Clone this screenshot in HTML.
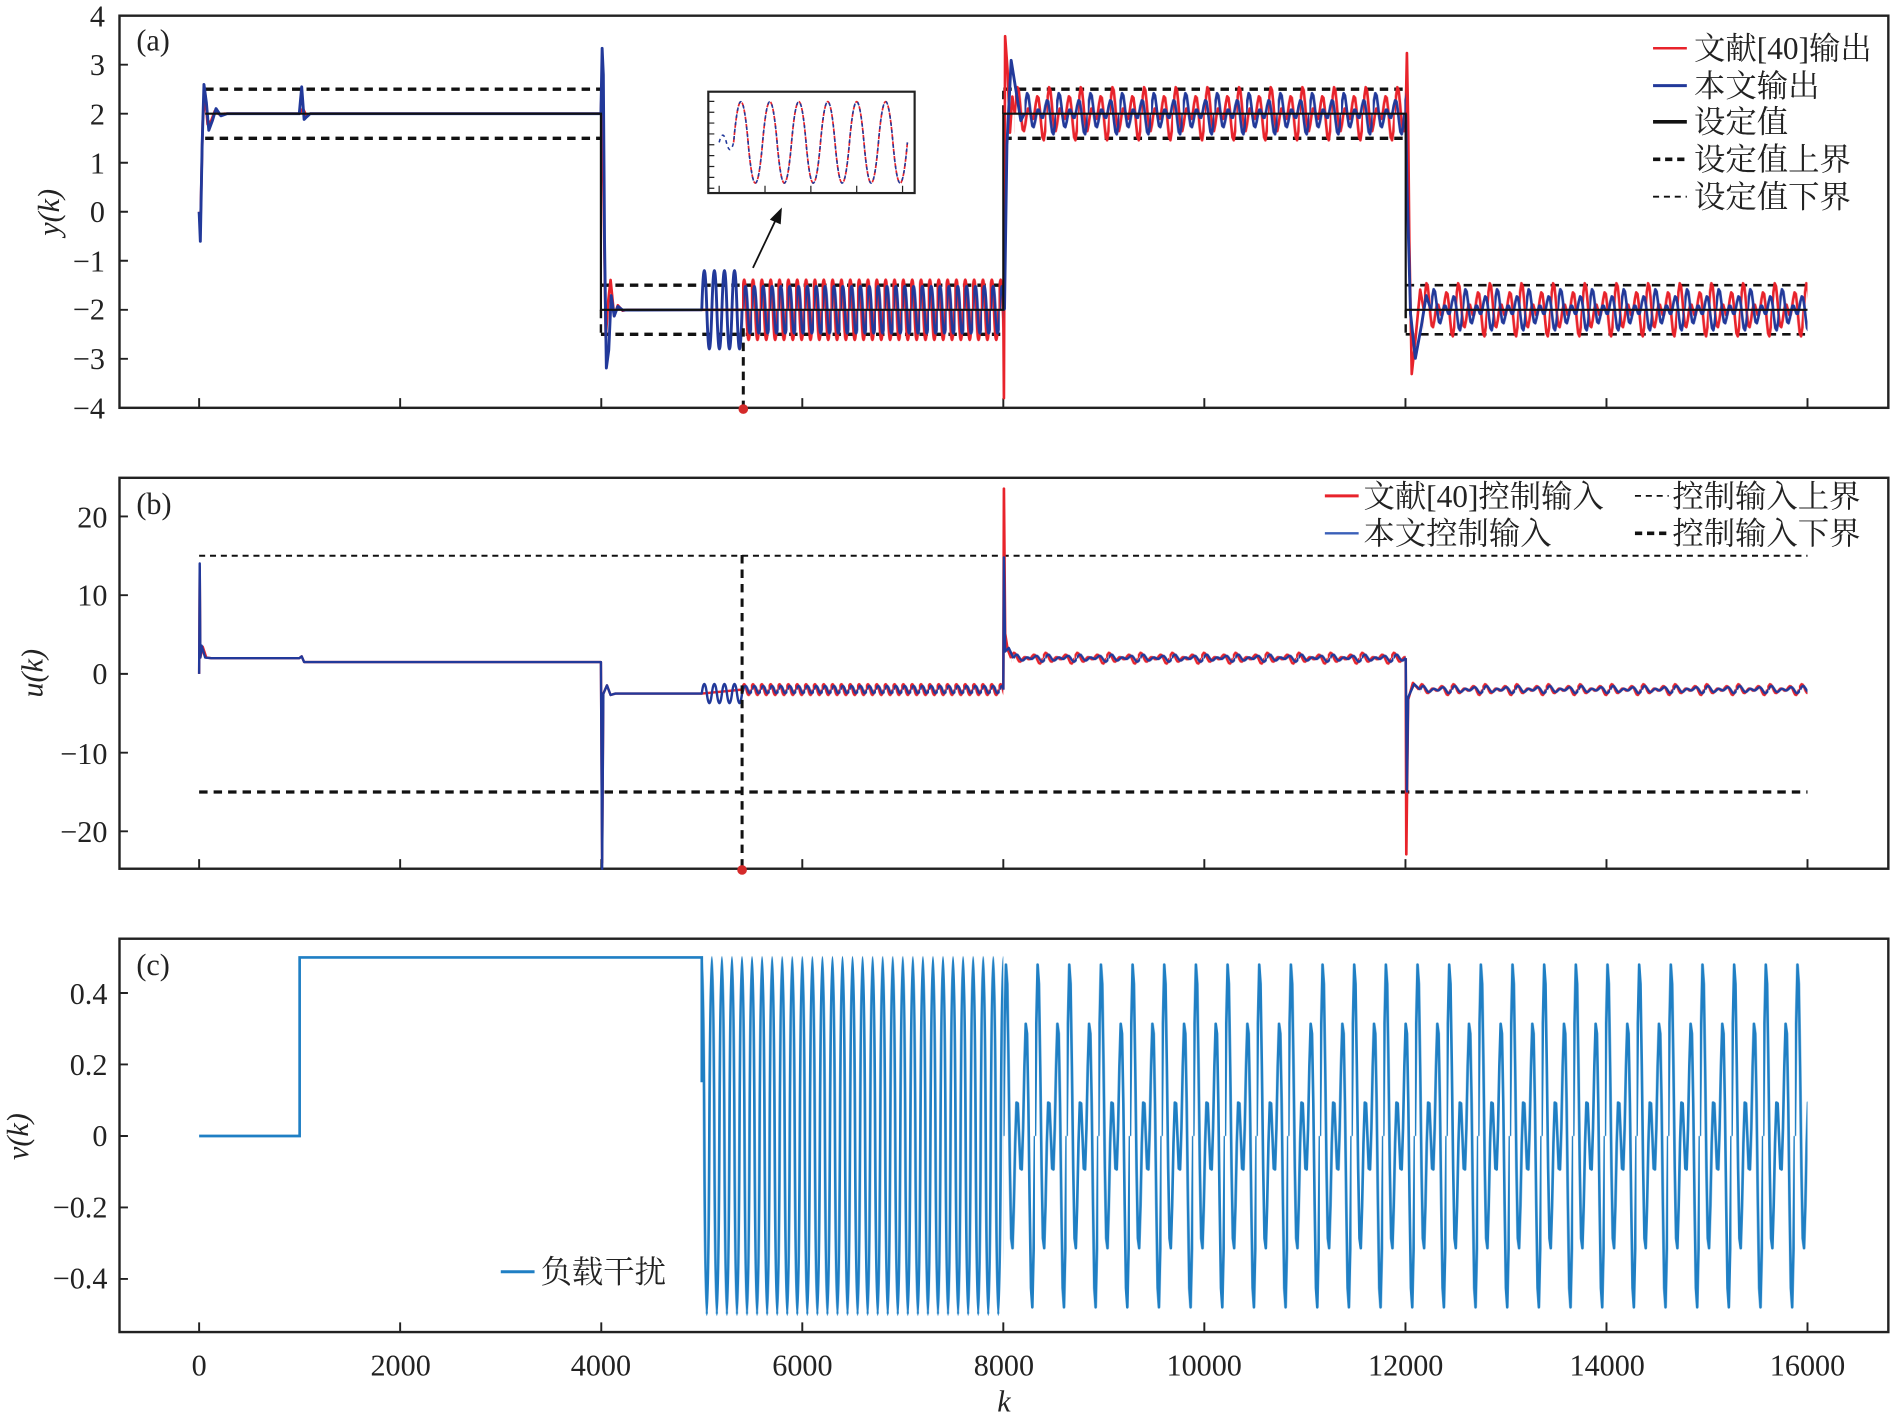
<!DOCTYPE html>
<html><head><meta charset="utf-8"><style>
html,body{margin:0;padding:0;background:#fff;}
svg{display:block;}
text{font-family:"Liberation Serif","Noto Serif CJK SC","Noto Sans CJK SC",serif;fill:#222;}
</style></head><body>
<svg width="1892" height="1417" viewBox="0 0 1568 1174.4" xmlns="http://www.w3.org/2000/svg">
<defs>
<pattern id="sA" patternUnits="userSpaceOnUse" x="0" y="0" width="7.33" height="60"><path d="M0,30 C1.15,-3.3 2.52,-3.3 3.665,30 C4.81,63.3 6.18,63.3 7.33,30" fill="none" stroke="#e8232b" stroke-width="2.2"/></pattern>
<pattern id="sAb" patternUnits="userSpaceOnUse" x="0" y="0" width="7.33" height="60"><path d="M0,30 C1.15,4 2.52,4 3.665,30 C4.81,56 6.18,56 7.33,30" fill="none" stroke="#22399a" stroke-width="2.2"/></pattern>
<pattern id="sB" patternUnits="userSpaceOnUse" x="0" y="0" width="7.33" height="16"><path d="M0,8 C1.15,2 2.52,2 3.665,8 C4.81,14 6.18,14 7.33,8" fill="none" stroke="#e8232b" stroke-width="2"/></pattern>
<pattern id="sBb" patternUnits="userSpaceOnUse" x="0" y="0" width="7.33" height="16"><path d="M0,8 C1.15,4 2.52,4 3.665,8 C4.81,12 6.18,12 7.33,8" fill="none" stroke="#22399a" stroke-width="2"/></pattern>
<pattern id="c22" patternUnits="userSpaceOnUse" x="0" y="0" width="26.24" height="50"><path d="M0,25 L1.09,10.6 L2.19,3 L3.28,5.5 L4.37,16.1 L5.47,29.2 L6.56,38.1 L7.65,39.4 L8.75,33.9 L9.84,25.9 L10.93,20.7 L12.03,20.8 L13.12,25 L14.21,29.2 L15.31,29.3 L16.4,24.1 L17.49,16.1 L18.59,10.6 L19.68,11.9 L20.77,20.8 L21.87,33.9 L22.96,44.5 L24.05,47 L25.15,39.4 L26.24,25" fill="none" stroke="#e8232b" stroke-width="2.2" stroke-linejoin="round"/></pattern>
<pattern id="c17" patternUnits="userSpaceOnUse" x="0" y="0" width="26.24" height="50"><path d="M0,25 L1.09,13.9 L2.19,8 L3.28,9.9 L4.37,18.1 L5.47,28.2 L6.56,35.1 L7.65,36.1 L8.75,31.9 L9.84,25.7 L10.93,21.7 L12.03,21.8 L13.12,25 L14.21,28.2 L15.31,28.3 L16.4,24.3 L17.49,18.1 L18.59,13.9 L19.68,14.9 L20.77,21.8 L21.87,31.9 L22.96,40.1 L24.05,42 L25.15,36.1 L26.24,25" fill="none" stroke="#22399a" stroke-width="2.2" stroke-linejoin="round"/></pattern>
<pattern id="cS" patternUnits="userSpaceOnUse" x="0" y="0" width="26.24" height="14"><path d="M0,7 L1.09,4.05 L2.19,2.5 L3.28,3 L4.37,5.2 L5.47,7.9 L6.56,9.7 L7.65,9.9 L8.75,8.8 L9.84,7.2 L10.93,6.1 L12.03,6.1 L13.12,7 L14.21,7.9 L15.31,7.9 L16.4,6.8 L17.49,5.2 L18.59,4.05 L19.68,4.3 L20.77,6.1 L21.87,8.8 L22.96,11 L24.05,11.5 L25.15,9.9 L26.24,7" fill="none" stroke="#e8232b" stroke-width="2" stroke-linejoin="round"/></pattern>
<pattern id="cSb" patternUnits="userSpaceOnUse" x="0" y="0" width="26.24" height="14"><path d="M0,7 L1.09,5 L2.19,4 L3.28,4.3 L4.37,5.8 L5.47,7.6 L6.56,8.8 L7.65,9 L8.75,8.2 L9.84,7.1 L10.93,6.4 L12.03,6.4 L13.12,7 L14.21,7.6 L15.31,7.6 L16.4,6.8 L17.49,5.8 L18.59,5 L19.68,5.2 L20.77,6.4 L21.87,8.2 L22.96,9.7 L24.05,10 L25.15,9 L26.24,7" fill="none" stroke="#22399a" stroke-width="2" stroke-linejoin="round"/></pattern>
<pattern id="cV" patternUnits="userSpaceOnUse" x="0" y="0" width="26.24" height="296"><path d="M0,148 L1.09,55 L2.19,6 L3.28,22 L4.37,90.8 L5.47,175 L6.56,232.8 L7.65,241 L8.75,205.2 L9.84,154 L10.93,120.3 L12.03,121 L13.12,148 L14.21,175 L15.31,175.7 L16.4,142 L17.49,90.8 L18.59,55 L19.68,63.2 L20.77,121 L21.87,205.2 L22.96,274 L24.05,290 L25.15,241 L26.24,148" fill="none" stroke="#1f7fc4" stroke-width="2.2" stroke-linejoin="round"/></pattern>
<pattern id="sV" patternUnits="userSpaceOnUse" x="0" y="0" width="8.33" height="302"><path d="M0,3 C1.39,3 2.08,151 2.08,151 S2.78,299 4.165,299 S6.25,151 6.25,151 S6.94,3 8.33,3" fill="none" stroke="#1f7fc4" stroke-width="2.2"/></pattern>
</defs>

<!-- frames -->
<g fill="none" stroke="#222" stroke-width="2">
<rect x="99" y="13" width="1466" height="325"/>
<rect x="99" y="396" width="1466" height="324"/>
<rect x="99" y="778" width="1466" height="326"/>
</g>
<!-- ticks -->
<g stroke="#222" stroke-width="1.6">
<path d="M165,338v-8M331.6,338v-8M498.3,338v-8M664.9,338v-8M831.5,338v-8M998.1,338v-8M1164.8,338v-8M1331.4,338v-8M1498,338v-8"/>
<path d="M165,720v-8M331.6,720v-8M498.3,720v-8M664.9,720v-8M831.5,720v-8M998.1,720v-8M1164.8,720v-8M1331.4,720v-8M1498,720v-8"/>
<path d="M165,1104v-8M331.6,1104v-8M498.3,1104v-8M664.9,1104v-8M831.5,1104v-8M998.1,1104v-8M1164.8,1104v-8M1331.4,1104v-8M1498,1104v-8"/>
<path d="M99,53.6h7M99,94.25h7M99,134.9h7M99,175.5h7M99,216.1h7M99,256.75h7M99,297.4h7"/>
<path d="M99,428h7M99,493.3h7M99,558.5h7M99,623.8h7M99,689h7"/>
<path d="M99,823h7M99,882.2h7M99,941.5h7M99,1000.7h7M99,1060h7"/>
</g>

<!-- ===== panel a ===== -->
<g stroke="#111" stroke-width="2.8" stroke-dasharray="7,5" fill="none">
<path d="M170,73.9H498M170,114.6H498M498,236.4H831.5M498,277.1H831.5M831.5,73.9H1165M831.5,114.6H1165"/>
<path d="M1165,236.4H1498M1165,277.1H1498" stroke-width="2.2"/>
<path d="M498,256.75V277.1M831.5,94.25V73.9M1165,256.75V277.1" stroke-width="2"/>
</g>
<!-- red a -->
<path d="M165,175.5 L166,190 L168,100 L170,78 L172,103 L175,100 L178,92 L182,95 L186,94.25 L248,94.25 L251,90 L254,96 L257,94.25 L498,94.25 L499,60 L500,150 L502,280 L504,250 L506,232 L509,262 L512,253 L516,257.5 L520,256.75 L614.9,256.75" fill="none" stroke="#e8232b" stroke-width="2.2" stroke-linejoin="round"/>
<g transform="translate(614.9,226.75)"><rect x="0" y="0" width="216.6" height="60" fill="url(#sA)"/></g>
<path d="M831.5,256.75 L832,330 L833,30 L835,58 L837,110 L839,80 L841,94.25" fill="none" stroke="#e8232b" stroke-width="2.2" stroke-linejoin="round"/>
<g transform="translate(841,69.25)"><rect x="0" y="0" width="324" height="50" fill="url(#c22)"/></g>
<path d="M1165,94.25 L1166,44 L1167,100 L1168,200 L1170,310 L1173,282 L1177,240 L1180,256.75" fill="none" stroke="#e8232b" stroke-width="2.2" stroke-linejoin="round"/>
<g transform="translate(1180,231.75)"><rect x="0" y="0" width="318" height="50" fill="url(#c22)"/></g>
<!-- blue a -->
<path d="M165,175.5 L166,200 L167.5,120 L169,70 L171,85 L173,108 L176,100 L179,90 L183,96 L188,94.25 L248,94.25 L250,72 L252,99 L254,97 L257,94.25 L498,94.25 L499,40 L500,62 L501,200 L502.5,305 L504.5,290 L506.5,245 L509,262 L512,254 L516,257 L581.6,256.75 c1.4,-43.3 2.8,-43.3 4.17,0 c1.4,43.3 2.8,43.3 4.17,0 c1.4,-43.3 2.8,-43.3 4.17,0 c1.4,43.3 2.8,43.3 4.17,0 c1.4,-43.3 2.8,-43.3 4.17,0 c1.4,43.3 2.8,43.3 4.17,0 c1.4,-43.3 2.8,-43.3 4.17,0 c1.4,43.3 2.8,43.3 4.17,0" fill="none" stroke="#22399a" stroke-width="2.4" stroke-linejoin="round"/>
<g transform="translate(616,226.75)"><rect x="0" y="0" width="215.5" height="60" fill="url(#sAb)"/></g>
<path d="M831.5,256.75 L832.5,256 L834.5,120 L838,50 L842,75 L846,100 L849,94.25" fill="none" stroke="#22399a" stroke-width="2.4" stroke-linejoin="round"/>
<g transform="translate(849,69.25)"><rect x="0" y="0" width="316" height="50" fill="url(#c17)"/></g>
<path d="M1165,94.25 L1166,150 L1169,260 L1173,297 L1178,270 L1182,245 L1186,256.75" fill="none" stroke="#22399a" stroke-width="2.4" stroke-linejoin="round"/>
<g transform="translate(1186,231.75)"><rect x="0" y="0" width="312" height="50" fill="url(#c17)"/></g>
<!-- setpoint -->
<path d="M170,94.25H498V256.75H831.5V94.25H1165V256.75H1498" fill="none" stroke="#111" stroke-width="1.8"/>

<!-- inset -->
<rect x="587" y="76" width="171" height="84" fill="#fff" stroke="#222" stroke-width="1.8"/>
<path d="M587,84h5M587,93h5M587,102h5M587,111h5M587,120h5M587,129h5M587,138h5M587,147h5M587,156h5M596,160v-6M634,160v-6M672,160v-6M710,160v-6M748,160v-6" stroke="#222" stroke-width="1"/>
<path d="M608,118 c4,-45 8,-45 12,0 c4,45 8,45 12,0 c4,-45 8,-45 12,0 c4,45 8,45 12,0 c4,-45 8,-45 12,0 c4,45 8,45 12,0 c4,-45 8,-45 12,0 c4,45 8,45 12,0 c4,-45 8,-45 12,0 c4,45 8,45 12,0 c4,-45 8,-45 12,0 c4,45 8,45 12,0" fill="none" stroke="#e8232b" stroke-width="1.4" stroke-dasharray="4,2"/>
<path d="M596,118 c2,-8 4,-8 6,0 c2,8 4,8 6,0 c4,-45 8,-45 12,0 c4,45 8,45 12,0 c4,-45 8,-45 12,0 c4,45 8,45 12,0 c4,-45 8,-45 12,0 c4,45 8,45 12,0 c4,-45 8,-45 12,0 c4,45 8,45 12,0 c4,-45 8,-45 12,0 c4,45 8,45 12,0 c4,-45 8,-45 12,0 c4,45 8,45 12,0" fill="none" stroke="#22399a" stroke-width="1.3" stroke-dasharray="3,3"/>

<!-- ===== panel b ===== -->
<path d="M165,460.6H1498" stroke="#111" stroke-width="1.6" stroke-dasharray="5,4"/>
<path d="M165,656.4H1498" stroke="#111" stroke-width="2.6" stroke-dasharray="7,5"/>
<!-- red b -->
<path d="M165,558.5 L165.5,470 L166,545 L168,536 L171,545 L175,545.5 L248,545.5 L250,544 L252,548.7 L498,548.7 L499,715 L500,575 L503,568 L506,576 L510,574.8 L581.6,574.8 L614.9,571.55" fill="none" stroke="#e8232b" stroke-width="2" stroke-linejoin="round"/>
<g transform="translate(614.9,563.55)"><rect x="0" y="0" width="216.6" height="16" fill="url(#sB)"/></g>
<path d="M831.5,571.55 L832,405 L833,525 L835,538 L838,545.5" fill="none" stroke="#e8232b" stroke-width="2.2" stroke-linejoin="round"/>
<g transform="translate(838,538.5)"><rect x="0" y="0" width="327" height="14" fill="url(#cS)"/></g>
<path d="M1165,545.5 L1165.5,708 L1167,580 L1171,566 L1176,571.55" fill="none" stroke="#e8232b" stroke-width="2.2" stroke-linejoin="round"/>
<g transform="translate(1176,564.55)"><rect x="0" y="0" width="322" height="14" fill="url(#cS)"/></g>
<!-- blue b -->
<path d="M165,558.5 L165.5,467 L166,545 L167,535 L170,545 L175,545.5 L248,545.5 L250,544 L252,548.7 L498,548.7 L499,720 L500,575 L503,568 L506,576 L510,574.8 L581.6,574.8 c1.4,-10.6 2.8,-10.6 4.17,0 c1.4,10.6 2.8,10.6 4.17,0 c1.4,-10.6 2.8,-10.6 4.17,0 c1.4,10.6 2.8,10.6 4.17,0 c1.4,-10.6 2.8,-10.6 4.17,0 c1.4,10.6 2.8,10.6 4.17,0 c1.4,-10.6 2.8,-10.6 4.17,0 c1.4,10.6 2.8,10.6 4.17,0 L616,571.55" fill="none" stroke="#22399a" stroke-width="2" stroke-linejoin="round"/>
<g transform="translate(616,563.55)"><rect x="0" y="0" width="215.5" height="16" fill="url(#sBb)"/></g>
<path d="M831.5,571.55 L832,462 L833,540 L836,537 L840,545.5" fill="none" stroke="#22399a" stroke-width="2" stroke-linejoin="round"/>
<g transform="translate(840,538.5)"><rect x="0" y="0" width="325" height="14" fill="url(#cSb)"/></g>
<path d="M1165,545.5 L1166,656 L1167,578 L1172,567 L1177,571.55" fill="none" stroke="#22399a" stroke-width="2" stroke-linejoin="round"/>
<g transform="translate(1177,564.55)"><rect x="0" y="0" width="321" height="14" fill="url(#cSb)"/></g>

<!-- ===== panel c ===== -->
<path d="M165,941.5H248.3V793.5H581.6V897" fill="none" stroke="#1f7fc4" stroke-width="2.2"/>
<g transform="translate(581.6,790.5)"><rect x="0" y="0" width="249.9" height="302" fill="url(#sV)"/></g>
<g transform="translate(831.5,793.5)"><rect x="0" y="0" width="666.5" height="296" fill="url(#cV)"/></g>

<!-- markers -->
<g stroke="#111" stroke-width="2.5" stroke-dasharray="7,5" fill="none">
<line x1="616" y1="272" x2="616" y2="338"/>
<line x1="615" y1="460" x2="615" y2="720"/>
</g>
<circle cx="616" cy="339" r="4" fill="#d42a2a"/>
<circle cx="615" cy="721" r="4" fill="#d42a2a"/>
<line x1="624" y1="222" x2="643" y2="182" stroke="#111" stroke-width="1.5"/>
<polygon points="648,172 638,182 647,186" fill="#111"/>

<!-- labels -->
<g font-size="25">
<text x="87" y="22" text-anchor="end">4</text>
<text x="87" y="62" text-anchor="end">3</text>
<text x="87" y="103" text-anchor="end">2</text>
<text x="87" y="144" text-anchor="end">1</text>
<text x="87" y="184" text-anchor="end">0</text>
<text x="87" y="225" text-anchor="end">−1</text>
<text x="87" y="265" text-anchor="end">−2</text>
<text x="87" y="306" text-anchor="end">−3</text>
<text x="87" y="347" text-anchor="end">−4</text>
<text x="89" y="437" text-anchor="end">20</text>
<text x="89" y="502" text-anchor="end">10</text>
<text x="89" y="567" text-anchor="end">0</text>
<text x="89" y="633" text-anchor="end">−10</text>
<text x="89" y="698" text-anchor="end">−20</text>
<text x="89" y="832" text-anchor="end">0.4</text>
<text x="89" y="891" text-anchor="end">0.2</text>
<text x="89" y="950" text-anchor="end">0</text>
<text x="89" y="1009" text-anchor="end">−0.2</text>
<text x="89" y="1068" text-anchor="end">−0.4</text>
<text x="165" y="1140" text-anchor="middle">0</text>
<text x="332" y="1140" text-anchor="middle">2000</text>
<text x="498" y="1140" text-anchor="middle">4000</text>
<text x="665" y="1140" text-anchor="middle">6000</text>
<text x="832" y="1140" text-anchor="middle">8000</text>
<text x="998" y="1140" text-anchor="middle">10000</text>
<text x="1165" y="1140" text-anchor="middle">12000</text>
<text x="1332" y="1140" text-anchor="middle">14000</text>
<text x="1498" y="1140" text-anchor="middle">16000</text>
<text x="832" y="1170" text-anchor="middle" font-style="italic">k</text>
<text x="113" y="42">(a)</text>
<text x="113" y="426">(b)</text>
<text x="113" y="808">(c)</text>
<text transform="translate(49,176) rotate(-90)" text-anchor="middle" font-style="italic">y(k)</text>
<text transform="translate(35,558) rotate(-90)" text-anchor="middle" font-style="italic">u(k)</text>
<text transform="translate(23,942) rotate(-90)" text-anchor="middle" font-style="italic">v(k)</text>
</g>
<g font-size="26">
<line x1="1370" y1="40" x2="1398" y2="40" stroke="#e8232b" stroke-width="2"/>
<text x="1404" y="49">文献[40]输出</text>
<line x1="1370" y1="71" x2="1398" y2="71" stroke="#22399a" stroke-width="2.5"/>
<text x="1404" y="80">本文输出</text>
<line x1="1370" y1="101" x2="1398" y2="101" stroke="#111" stroke-width="3"/>
<text x="1404" y="110">设定值</text>
<line x1="1370" y1="132" x2="1398" y2="132" stroke="#111" stroke-width="3" stroke-dasharray="6,4"/>
<text x="1404" y="141">设定值上界</text>
<line x1="1370" y1="163" x2="1398" y2="163" stroke="#111" stroke-width="1.5" stroke-dasharray="5,4"/>
<text x="1404" y="172">设定值下界</text>
<line x1="1098" y1="411" x2="1126" y2="411" stroke="#e8232b" stroke-width="2.5"/>
<text x="1130" y="420">文献[40]控制输入</text>
<line x1="1098" y1="442" x2="1126" y2="442" stroke="#3a5fb8" stroke-width="2"/>
<text x="1130" y="451">本文控制输入</text>
<line x1="1355" y1="411" x2="1383" y2="411" stroke="#111" stroke-width="1.5" stroke-dasharray="5,4"/>
<text x="1386" y="420">控制输入上界</text>
<line x1="1355" y1="442" x2="1383" y2="442" stroke="#111" stroke-width="3" stroke-dasharray="6,4"/>
<text x="1386" y="451">控制输入下界</text>
<line x1="415" y1="1054" x2="443" y2="1054" stroke="#1f7fc4" stroke-width="2.5"/>
<text x="448" y="1063">负载干扰</text>
</g>
</svg>
</body></html>
